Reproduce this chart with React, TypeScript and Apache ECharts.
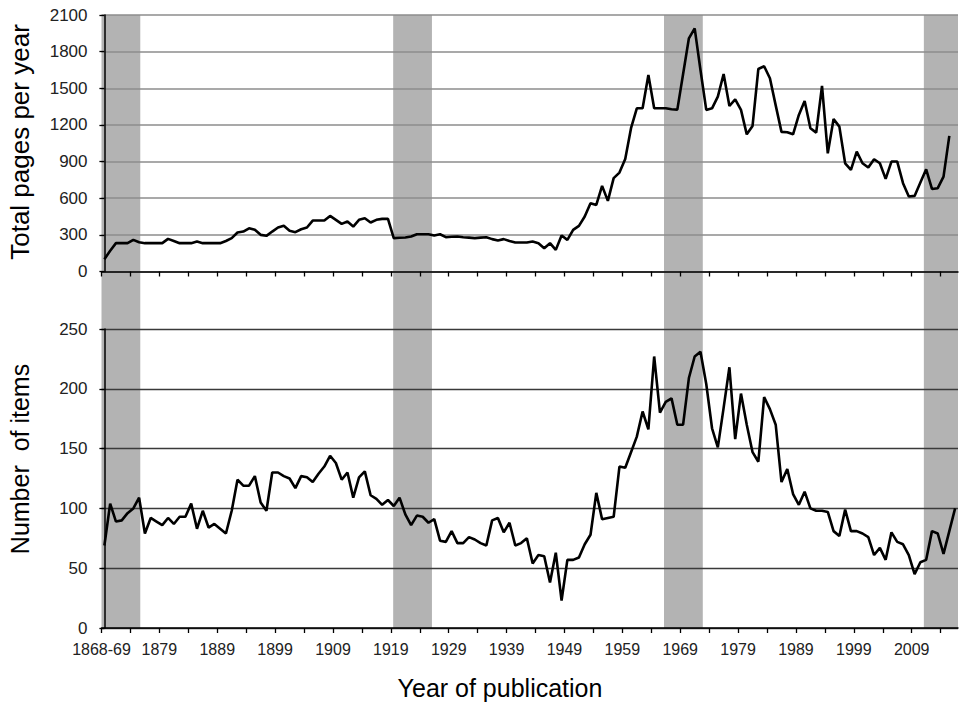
import React, { useEffect, useRef } from "react";
import * as echarts from "echarts";

// Category 0 is the combined "1868-69" volume, then one category per year from 1870.
const FIRST_LABEL = "1868-69";
const FIRST_SINGLE_YEAR = 1870;

// Tick labels shown under the lower panel (every 10th category)
const xTickLabels = ["1868-69", "1879", "1889", "1899", "1909", "1919", "1929", "1939", "1949", "1959", "1969", "1979", "1989", "1999", "2009"];

// Total pages per year (1868-69 .. 2015)
const pagesPerYear = [
  101, 170, 232, 232, 232, 259, 240, 232, 232, 232,
  232, 267, 250, 232, 232, 232, 245, 232, 232, 232,
  232, 250, 273, 319, 327, 354, 341, 300, 292, 327,
  360, 374, 333, 322, 346, 360, 417, 417, 417, 455,
  423, 390, 409, 368, 423, 436, 401, 423, 431, 431,
  273, 276, 278, 286, 305, 305, 305, 295, 305, 281,
  284, 286, 281, 277, 273, 277, 281, 265, 254, 265,
  250, 237, 237, 237, 245, 232, 191, 232, 177, 295,
  259, 341, 374, 450, 559, 545, 701, 578, 764, 810,
  922, 1173, 1336, 1336, 1609, 1336, 1336, 1336, 1328, 1325,
  1617, 1909, 1991, 1650, 1323, 1336, 1432, 1617, 1355, 1410,
  1323, 1123, 1192, 1658, 1680, 1582, 1360, 1143, 1140, 1123,
  1282, 1396, 1173, 1137, 1519, 968, 1249, 1186, 886, 832,
  982, 886, 851, 919, 886, 758, 900, 900, 723, 614,
  619, 728, 837, 676, 682, 777, 1110,
];

// Number of items per year (1868-69 .. 2016)
const itemsPerYear = [
  69, 104, 89, 90, 96, 100, 109, 79, 92, 89,
  86, 92, 87, 93, 93, 104, 83, 98, 84, 87,
  83, 79, 98, 124, 119, 119, 127, 105, 98, 130,
  130, 127, 125, 117, 127, 126, 122, 129, 135, 144,
  138, 124, 130, 109, 126, 131, 111, 108, 103, 107,
  102, 109, 95, 86, 94, 93, 88, 91, 73, 72,
  81, 71, 71, 76, 74, 71, 69, 90, 92, 80,
  88, 69, 71, 75, 54, 61, 60, 38, 63, 23,
  57, 57, 59, 70, 78, 113, 91, 92, 93, 135,
  134, 147, 160, 181, 166, 227, 180, 189, 192, 170,
  170, 209, 227, 231, 204, 167, 151, 184, 218, 158,
  196, 170, 147, 139, 193, 183, 170, 122, 133, 112,
  103, 114, 100, 98, 98, 97, 81, 77, 99, 81,
  81, 79, 76, 61, 67, 57, 80, 72, 70, 61,
  45, 55, 57, 81, 79, 62, 81, 100,
];

// Shaded periods, in years (start, end)
const shadedPeriods: [number, number][] = [
  [1868.5, 1875.2],
  [1918.9, 1925.6],
  [1965.7, 1972.4],
  [2010.6, 2016.5],
];

const categories = [FIRST_LABEL];
for (let y = FIRST_SINGLE_YEAR; y <= 2016; y++) categories.push(String(y));

const yearToIndex = (y: number) => y - (FIRST_SINGLE_YEAR - 1);

export default function App() {
  const ref = useRef<HTMLDivElement>(null);

  useEffect(() => {
    if (!ref.current) return;
    const chart = echarts.init(ref.current, undefined, { renderer: "svg" });

    const xMin = -0.5;
    const xMax = 147.5;
    const tickValues: number[] = [];
    for (let v = xMin; v < 145; v += 5) tickValues.push(v);
    const labelValues = xTickLabels.map((_, i) => xMin + i * 10);
    const labelFor = (v: number) => {
      const i = Math.round((v - xMin) / 10);
      return xTickLabels[i] ?? "";
    };

    const font = "'Liberation Sans', Arial, sans-serif";
    const gridLeft = 101.5;
    const gridRight = 2;

    const baseX = (gridIndex: number, withLabels: boolean) => ({
      type: "value" as const,
      gridIndex,
      min: xMin,
      max: xMax,
      axisLine: { show: true, onZero: false, lineStyle: { color: "#000", width: 1.5 } },
      axisTick: { show: true, length: 5, customValues: tickValues, lineStyle: { color: "#000", width: 1.3 } },
      axisLabel: withLabels
        ? {
            show: true,
            customValues: labelValues,
            formatter: (v: number) => labelFor(v),
            fontSize: 16,
            fontFamily: font,
            color: "#222",
            margin: 13,
          }
        : { show: false },
      splitLine: { show: false },
    });

    const yLabel = { fontSize: 17, fontFamily: font, color: "#222", margin: 14, formatter: (v: number) => String(v) };

    const option: any = {
      animation: false,
      backgroundColor: "#fff",
      grid: [
        { left: gridLeft, right: gridRight, top: 15, height: 256.5 },
        { left: gridLeft, right: gridRight, top: 329, height: 299 },
        { left: gridLeft, right: gridRight, top: 15, height: 613 },
      ],
      xAxis: [
        baseX(0, false),
        baseX(1, true),
        { type: "value", gridIndex: 2, min: xMin, max: xMax, show: false },
      ],
      yAxis: [
        {
          type: "value",
          gridIndex: 0,
          min: 0,
          max: 2100,
          interval: 300,
          axisLine: { show: true, lineStyle: { color: "#000", width: 1.5 } },
          axisTick: { show: true, length: 5, lineStyle: { color: "#000", width: 1.3 } },
          axisLabel: yLabel,
          splitLine: { show: true, lineStyle: { color: "#8c8c8c", width: 1.5 } },
        },
        {
          type: "value",
          gridIndex: 1,
          min: 0,
          max: 250,
          interval: 50,
          axisLine: { show: true, lineStyle: { color: "#000", width: 1.5 } },
          axisTick: { show: true, length: 5, lineStyle: { color: "#000", width: 1.3 } },
          axisLabel: yLabel,
          splitLine: { show: true, lineStyle: { color: "#3a3a3a", width: 1.3 } },
        },
        { type: "value", gridIndex: 2, min: 0, max: 1, show: false },
      ],
      series: [
        {
          type: "custom",
          xAxisIndex: 2,
          yAxisIndex: 2,
          z: -1,
          silent: true,
          data: shadedPeriods.map(([s, e]) => [yearToIndex(s), yearToIndex(e)]),
          renderItem: (_params: any, api: any) => {
            const p0 = api.coord([api.value(0), 1]);
            const p1 = api.coord([api.value(1), 0]);
            return {
              type: "rect",
              shape: { x: p0[0], y: p0[1], width: p1[0] - p0[0], height: p1[1] - p0[1] },
              style: { fill: "#b3b3b3" },
            };
          },
        },
        {
          type: "line",
          name: "Total pages per year",
          xAxisIndex: 0,
          yAxisIndex: 0,
          z: 3,
          showSymbol: false,
          data: pagesPerYear.map((v, i) => [i, v]),
          lineStyle: { color: "#000", width: 2.6 },
          itemStyle: { color: "#000" },
        },
        {
          type: "line",
          name: "Number of items",
          xAxisIndex: 1,
          yAxisIndex: 1,
          z: 3,
          showSymbol: false,
          data: itemsPerYear.map((v, i) => [i, v]),
          lineStyle: { color: "#000", width: 2.6 },
          itemStyle: { color: "#000" },
        },
      ],
      graphic: [
        {
          type: "text",
          x: 20,
          y: 142,
          rotation: Math.PI / 2,
          style: { text: "Total pages per year", fontSize: 26, fontFamily: font, fill: "#000", align: "center", verticalAlign: "middle" },
        },
        {
          type: "text",
          x: 20,
          y: 459,
          rotation: Math.PI / 2,
          style: { text: "Number  of items", fontSize: 25, fontFamily: font, fill: "#000", align: "center", verticalAlign: "middle" },
        },
        {
          type: "text",
          x: 500,
          y: 688,
          style: { text: "Year of publication", fontSize: 25, fontFamily: font, fill: "#000", align: "center", verticalAlign: "middle" },
        },
      ],
    };

    chart.setOption(option);
    return () => chart.dispose();
  }, []);

  return <div ref={ref} style={{ width: 960, height: 702, position: "absolute", left: 0, top: 0 }} />;
}
